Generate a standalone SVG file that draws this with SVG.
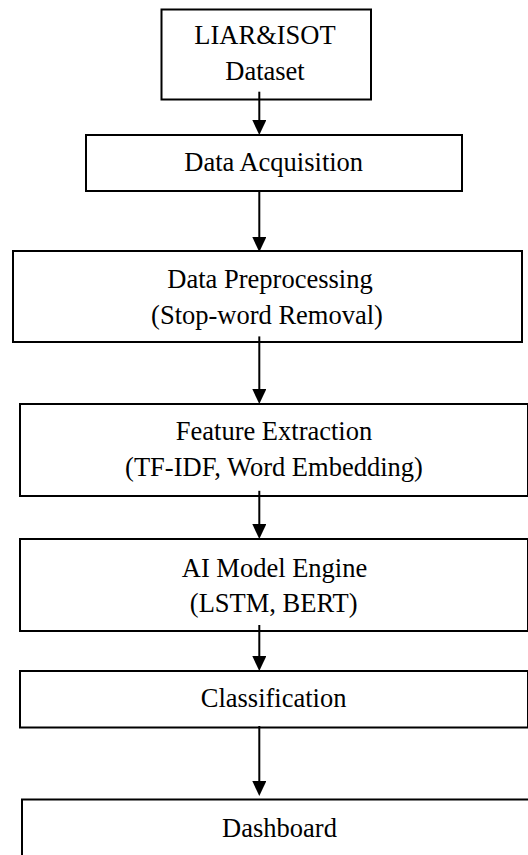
<svg xmlns="http://www.w3.org/2000/svg" width="528" height="855" viewBox="0 0 528 855">
<style>
.box{fill:#fff;stroke:#000;stroke-width:2}
.lbl{font-family:"Liberation Serif","Times New Roman",serif;font-size:26.5px;fill:#000;text-anchor:middle}
.arr{stroke:#000;stroke-width:2;fill:none}
</style>
<defs>
<marker id="ah" markerUnits="userSpaceOnUse" markerWidth="15" markerHeight="14" viewBox="0 0 15 14" refX="0" refY="7" orient="auto">
<path d="M0,0 L15,7 L0,14 Z" fill="#000"/>
</marker>
</defs>
<rect width="528" height="855" fill="#fff"/>
<g id="n1"><rect class="box" x="161.5" y="9.5" width="209.5" height="90"/>
<text class="lbl" x="265" y="44.3">LIAR&amp;ISOT</text><text class="lbl" x="265" y="80">Dataset</text></g>
<g id="n2"><rect class="box" x="86" y="135" width="376" height="56"/>
<text class="lbl" x="273.7" y="170.7">Data Acquisition</text></g>
<g id="n3"><rect class="box" x="13" y="251" width="509" height="91"/>
<text class="lbl" x="270" y="288.2">Data Preprocessing</text><text class="lbl" x="267" y="323.9">(Stop-word Removal)</text></g>
<g id="n4"><rect class="box" x="20" y="404" width="508" height="92"/>
<text class="lbl" x="274" y="440.3">Feature Extraction</text><text class="lbl" x="274" y="475.7">(TF-IDF, Word Embedding)</text></g>
<g id="n5"><rect class="box" x="20" y="539" width="508" height="92"/>
<text class="lbl" x="274.5" y="577.3">AI Model Engine</text><text class="lbl" x="273.7" y="612">(LSTM, BERT)</text></g>
<g id="n6"><rect class="box" x="20" y="671" width="508" height="56.5"/>
<text class="lbl" x="273.6" y="706.9">Classification</text></g>
<g id="n7"><rect class="box" x="22" y="799.5" width="520" height="80"/>
<text class="lbl" x="279.5" y="836.5">Dashboard</text></g>
<g id="connectors">
<line class="arr" x1="259.3" y1="91.7" x2="259.3" y2="120" marker-end="url(#ah)"/>
<line class="arr" x1="259.3" y1="190" x2="259.3" y2="237" marker-end="url(#ah)"/>
<line class="arr" x1="259.3" y1="336.4" x2="259.3" y2="389" marker-end="url(#ah)"/>
<line class="arr" x1="259.3" y1="490.8" x2="259.3" y2="524" marker-end="url(#ah)"/>
<line class="arr" x1="259.3" y1="625" x2="259.3" y2="656" marker-end="url(#ah)"/>
<line class="arr" x1="259.3" y1="726" x2="259.3" y2="781" marker-end="url(#ah)"/>
</g>
</svg>
